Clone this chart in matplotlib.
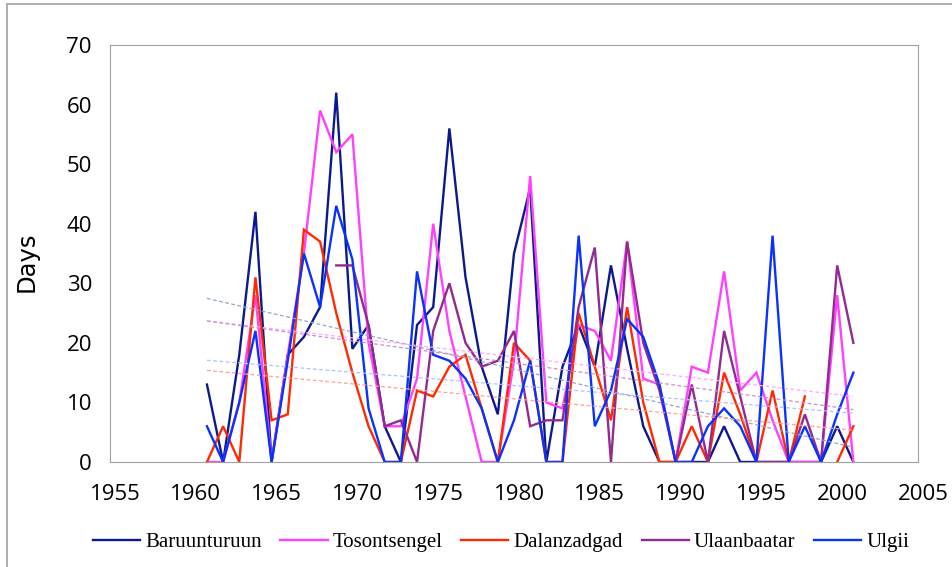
import matplotlib.pyplot as plt
import matplotlib.transforms as mtrans
import numpy as np
from matplotlib.patches import Rectangle

years = np.arange(1961, 2002)
nan = np.nan

baruunturuun = [13, 0, 18, 42, 0, 18, 21, 26, 62, 19, 23, 6, 0, 23, 26, 56, 31, 16, 8, 35,
                46, 0, 16, 23, 16, 33, 19, 6, 0, 0, 0, 0, 6, 0, 0, 0, 0, 0, 0, 6, 0]
tosontsengel = [0, 0, 10, 28, 0, 18, 35, 59, 52, 55, 20, 6, 6, 14, 40, 22, 11, 0, 0, 17,
                48, 10, 9, 23, 22, 17, 37, 14, 13, 0, 16, 15, 32, 12, 15, 7, 0, 0, 0, 28, 0]
dalanzadgad = [0, 6, 0, 31, 7, 8, 39, 37, 25, 15, 6, 0, 0, 12, 11, 16, 18, 9, 0, 20,
               17, 0, 0, 25, 16, 7, 26, 10, 0, 0, 6, 0, 15, 8, 0, 12, 0, 11, nan, 0, 6]
ulaanbaatar = [nan, nan, nan, nan, nan, nan, nan, nan, 33, 33, 23, 6, 7, 0, 22, 30, 20, 16, 17, 22,
               6, 7, 7, 26, 36, 0, 37, 20, 12, 0, 13, 0, 22, 11, 0, 0, 0, 8, 0, 33, 20]
ulgii = [6, 0, 10, 22, 0, 17, 35, 26, 43, 34, 9, 0, 0, 32, 18, 17, 14, 9, 0, 7,
         17, 0, 0, 38, 6, 12, 24, 21, 13, 0, 0, 6, 9, 6, 0, 38, 0, 6, 0, 8, 15]

names = ["Baruunturuun", "Tosontsengel", "Dalanzadgad", "Ulaanbaatar", "Ulgii"]
series = [baruunturuun, tosontsengel, dalanzadgad, ulaanbaatar, ulgii]
colors = ["#0a1a8c", "#ff40ff", "#ff2a00", "#922a92", "#0a32ff"]
trend_colors = ["#8fa6c4", "#ffa8ff", "#ffa090", "#c890c8", "#a8c4ff"]

fig = plt.figure(figsize=(9.52, 5.67), dpi=100)
ax = fig.add_axes([110 / 952, 1 - 462 / 567, 808 / 952, 417 / 567])

# outer chart border
fig.patches.append(Rectangle((0.0075, -0.01), 1.0, 1.003, transform=fig.transFigure,
                             fill=False, edgecolor="#a0a0a0", linewidth=1.2))

for vals, c in zip(series, colors):
    ax.plot(years, vals, color=c, linewidth=1.7, solid_joinstyle="miter")

# linear trend lines across the full period
for vals, tc in zip(series, trend_colors):
    v = np.array(vals, dtype=float)
    ok = ~np.isnan(v)
    k, b = np.polyfit(years[ok], v[ok], 1)
    ax.plot(years, k * years + b, color=tc, linewidth=0.9, linestyle=(0, (3, 2)))

ax.set_xlim(1955, 2005)
ax.set_ylim(0, 70)
ax.set_xticks(np.arange(1955, 2006, 5))
ax.set_yticks(np.arange(0, 71, 10))
ax.tick_params(length=0)
ax.tick_params(axis="x", pad=16)
ax.tick_params(axis="y", pad=13)
for lab in ax.get_xticklabels() + ax.get_yticklabels():
    lab.set_fontfamily("Open Sans")
    lab.set_fontsize(16)
shift = mtrans.ScaledTranslation(5 / 100, 0, fig.dpi_scale_trans)
for lab in ax.get_xticklabels():
    lab.set_transform(lab.get_transform() + shift)
for s in ax.spines.values():
    s.set_color("#a0a0a0")

fig.text(27 / 952, 1 - 262 / 567, "Days", rotation=90, fontsize=17.5,
         ha="center", va="center")

handles = ax.get_lines()[:5]
fig.legend(handles, names, loc="center", bbox_to_anchor=(501 / 952, 1 - 542 / 567), ncol=5,
           frameon=False, prop={"family": "Liberation Serif", "size": 15},
           handlelength=2.26, columnspacing=0.9, handletextpad=0.24)

fig.savefig("out.png", dpi=100)
